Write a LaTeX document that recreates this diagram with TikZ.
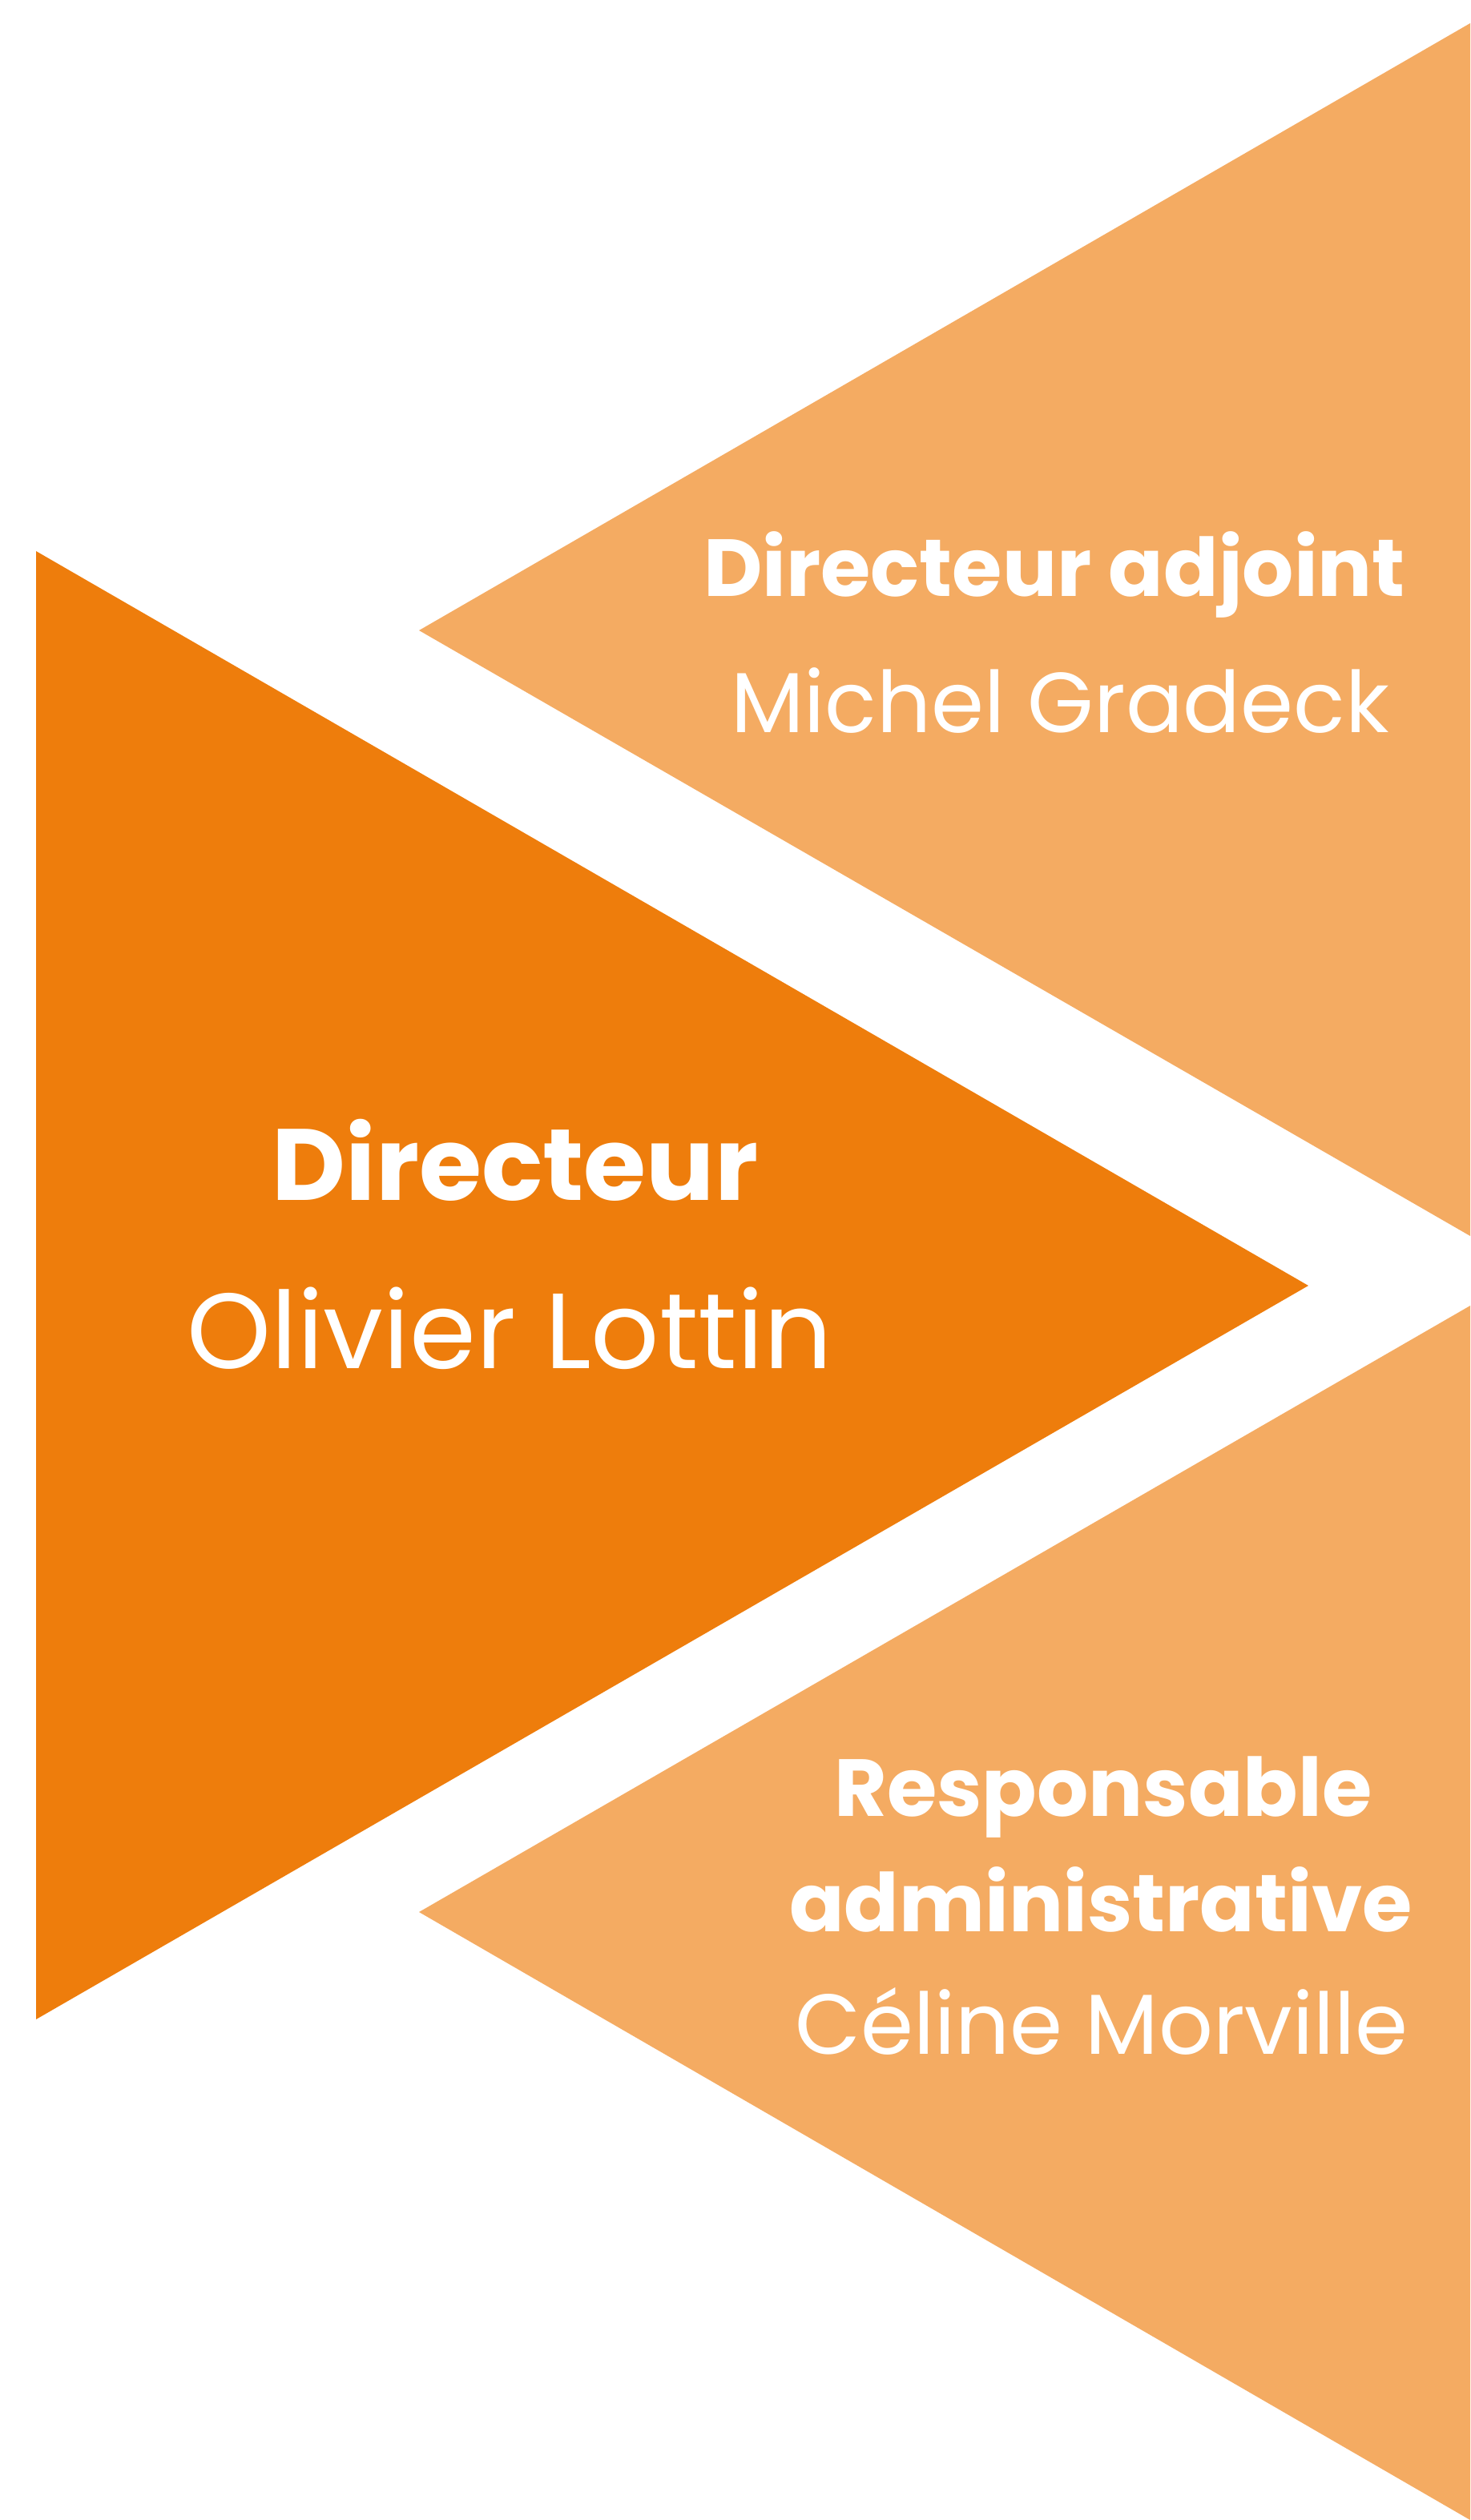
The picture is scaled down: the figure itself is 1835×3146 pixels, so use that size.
\documentclass[tikz,border=0pt]{standalone}
\usepackage{fontspec}
\usepackage{xcolor}
\usepackage{tikz}
\newfontfamily\rolefont{Poppins}[UprightFont=* Bold]
\newfontfamily\namefont{Poppins}
\definecolor{deep}{HTML}{EE7D0C}
\definecolor{soft}{HTML}{F4AB62}
\tikzset{
  chief/.style={fill=deep},
  aide/.style={fill=soft},
  role/.style={text=white, anchor=base, inner sep=0pt, font=\rolefont\fontsize{57.5}{60}\selectfont},
  rolebig/.style={role, font=\rolefont\fontsize{72}{80}\selectfont},
  who/.style={text=white, anchor=base, inner sep=0pt, font=\namefont\fontsize{60.5}{62}\selectfont},
  whobig/.style={who, font=\namefont\fontsize{76}{80}\selectfont},
}
\begin{document}
\begin{tikzpicture}[x=0.02cm, y=-0.02cm]
  \useasboundingbox (0,0) rectangle (1835,3146);
  % triangles
  \fill[aide] (523,787) -- (1835,29) -- (1835,1543) -- cycle;
  \fill[aide] (523,2387) -- (1835,1630) -- (1835,3146) -- cycle;
  \fill[chief] (45,688) -- (1633,1605) -- (45,2521) -- cycle;
  % director
  \node[rolebig] (dir) at (643,1498) {Directeur};
  \node[whobig] (dirname) at (636,1708) {Olivier Lottin};
  % deputy
  \node[role] (adj) at (1316,744) {Directeur adjoint};
  \node[who] (adjname) at (1323,914) {Michel Gradeck};
  % admin
  \node[role] (resp) at (1377,2267) {Responsable};
  \node[role] (respb) at (1374,2411) {administrative};
  \node[who] (respname) at (1375,2564) {Céline Morville};
\end{tikzpicture}
\end{document}
